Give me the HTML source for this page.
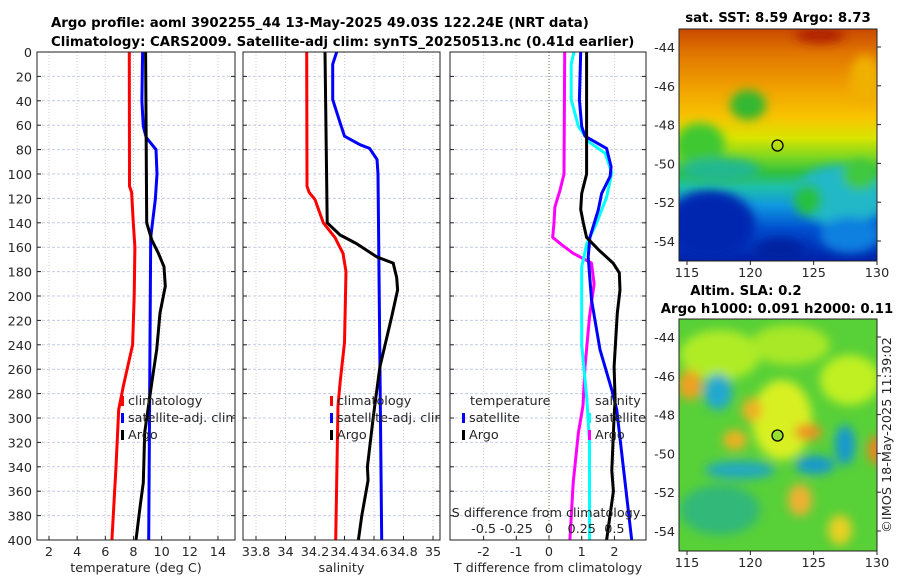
<!DOCTYPE html>
<html><head><meta charset="utf-8">
<style>
body{margin:0;background:#fff;}
svg{display:block;font-family:"DejaVu Sans","Liberation Sans",sans-serif;}
.t{font-size:12.8px;fill:#262626;}
.b{font-size:13.3px;font-weight:bold;fill:#000;}
</style></head>
<body>
<svg id="c" width="900" height="580" viewBox="0 0 900 580">
<defs>
<filter id="bl" x="-50%" y="-50%" width="200%" height="200%"><feGaussianBlur stdDeviation="5"/></filter>
<linearGradient id="sstg" x1="0" y1="0" x2="0" y2="1">
<stop offset="0" stop-color="#c84a00"/><stop offset="0.1" stop-color="#e07400"/>
<stop offset="0.25" stop-color="#f0a000"/><stop offset="0.38" stop-color="#f8c400"/>
<stop offset="0.47" stop-color="#d8e400"/><stop offset="0.55" stop-color="#80d820"/>
<stop offset="0.62" stop-color="#30c040"/><stop offset="0.68" stop-color="#20c0a8"/>
<stop offset="0.76" stop-color="#1098e0"/><stop offset="0.86" stop-color="#0050d0"/>
<stop offset="1" stop-color="#0020a8"/>
</linearGradient>
<clipPath id="m1"><rect x="679" y="29" width="198" height="232"/></clipPath>
<clipPath id="m2"><rect x="679" y="319" width="198" height="232"/></clipPath>
<clipPath id="p1"><rect x="37" y="52" width="198" height="488"/></clipPath>
<clipPath id="p2"><rect x="243" y="52" width="197" height="488"/></clipPath>
<clipPath id="p3"><rect x="450" y="52" width="196" height="488"/></clipPath>
</defs>
<text class="b" x="51" y="27">Argo profile: aoml 3902255_44 13-May-2025 49.03S 122.24E (NRT data)</text>
<text class="b" x="51" y="46">Climatology: CARS2009. Satellite-adj clim: synTS_20250513.nc (0.41d earlier)</text>

<g clip-path="url(#m1)">
<rect x="679" y="29" width="198" height="232" fill="url(#sstg)"/>
<g filter="url(#bl)">
<ellipse cx="700" cy="145" rx="25" ry="22" fill="#40c830"/>
<ellipse cx="748" cy="105" rx="18" ry="15" fill="#30b830"/>
<ellipse cx="720" cy="170" rx="40" ry="12" fill="#20b890"/>
<ellipse cx="710" cy="225" rx="45" ry="35" fill="#0028b0"/>
<ellipse cx="840" cy="195" rx="45" ry="30" fill="#20b8c8"/>
<ellipse cx="808" cy="200" rx="14" ry="16" fill="#28c040"/>
<ellipse cx="850" cy="235" rx="30" ry="18" fill="#1080e0"/>
<ellipse cx="780" cy="250" rx="25" ry="12" fill="#0020a0"/>
<ellipse cx="820" cy="35" rx="25" ry="8" fill="#b02000"/>
<ellipse cx="865" cy="80" rx="15" ry="25" fill="#f0b000"/>
<ellipse cx="860" cy="175" rx="18" ry="15" fill="#40c840"/>
</g>
<circle cx="777.5" cy="145.5" r="5.5" fill="none" stroke="#000" stroke-width="1.3"/>
</g>
<rect x="679" y="29" width="198" height="232" fill="none" stroke="#222"/>
<text class="b" x="778" y="22" text-anchor="middle">sat. SST: 8.59 Argo: 8.73</text>

<g clip-path="url(#m2)">
<rect x="679" y="319" width="198" height="232" fill="#58d038"/>
<g filter="url(#bl)">
<ellipse cx="720" cy="355" rx="40" ry="25" fill="#b0ec28"/>
<ellipse cx="790" cy="345" rx="40" ry="20" fill="#a8e828"/>
<ellipse cx="850" cy="380" rx="30" ry="25" fill="#c0f020"/>
<ellipse cx="690" cy="385" rx="12" ry="15" fill="#f0a020"/>
<ellipse cx="718" cy="392" rx="14" ry="18" fill="#20a8d0"/>
<ellipse cx="782" cy="420" rx="30" ry="40" fill="#d8f020"/>
<ellipse cx="752" cy="410" rx="10" ry="12" fill="#f0b020"/>
<ellipse cx="735" cy="440" rx="12" ry="10" fill="#f0b020"/>
<ellipse cx="808" cy="432" rx="14" ry="8" fill="#f09020"/>
<ellipse cx="740" cy="470" rx="35" ry="9" fill="#20a8c0"/>
<ellipse cx="815" cy="465" rx="20" ry="9" fill="#1898d0"/>
<ellipse cx="845" cy="445" rx="10" ry="20" fill="#1898d0"/>
<ellipse cx="876" cy="450" rx="8" ry="14" fill="#f08020"/>
<ellipse cx="720" cy="510" rx="40" ry="25" fill="#30b878"/>
<ellipse cx="800" cy="500" rx="12" ry="16" fill="#f0b030"/>
<ellipse cx="840" cy="530" rx="12" ry="15" fill="#e8d020"/>
</g>
<circle cx="777.5" cy="435.5" r="5.5" fill="#98e030" stroke="#000" stroke-width="1.3"/>
</g>
<rect x="679" y="319" width="198" height="232" fill="none" stroke="#222"/>
<text class="b" x="746" y="295" text-anchor="middle">Altim. SLA: 0.2</text>
<text class="b" x="777" y="313" text-anchor="middle">Argo h1000: 0.091 h2000: 0.11</text>
<text class="t" transform="translate(891,435) rotate(-90)" text-anchor="middle">©IMOS 18-May-2025 11:39:02</text>

<g id="plots"></g>
</svg>
<script>
const depthTicks=[0,20,40,60,80,100,120,140,160,180,200,220,240,260,280,300,320,340,360,380,400];
const tempTicks=[2,4,6,8,10,12,14];
const salTicks=[33.8,34,34.2,34.4,34.6,34.8,35];
const tdiffTicks=[-2,-1,0,1,2];
const sdiffTicks=[-0.5,-0.25,0,0.25,0.5];
const sdiffTickLabels=["-0.5","-0.25","0","0.25","0.5"];
const lonTicks=[115,120,125,130];
const latTicks=[-44,-46,-48,-50,-52,-54];

const tempClimDepth=[0,110,115,140,160,200,240,274,293,340,400];
const tempClim=[7.70,7.72,7.87,7.99,8.10,8.05,7.94,7.28,6.95,6.76,6.47];
const tempSatDepth=[0,40,61,70,80,100,121,152,400];
const tempSat=[8.65,8.60,8.70,8.90,9.60,9.67,9.55,9.22,9.08];
const tempArgoDepth=[0,140,154,165,176,192,214,244,271,312,353,370,400];
const tempArgo=[8.86,8.94,9.30,9.77,10.17,10.26,9.88,9.65,9.30,8.80,8.70,8.50,8.18];

const salClimDepth=[0,110,115,121,140,152,165,180,238,271,290,400];
const salClim=[34.144,34.146,34.16,34.20,34.256,34.335,34.39,34.41,34.40,34.37,34.356,34.34];
const salSatDepth=[0,10,39,58,69,76,79,88,100,400];
const salSat=[34.347,34.32,34.32,34.37,34.40,34.505,34.57,34.62,34.627,34.652];
const salArgoDepth=[0,140,150,157,168,173,185,195,217,258,299,340,351,380,400];
const salArgo=[34.268,34.283,34.37,34.48,34.62,34.73,34.754,34.76,34.72,34.64,34.595,34.555,34.56,34.517,34.494];

const tdSatDepth=[0,39,61,69,79,94,102,116,129,152,168,203,244,277,293,400];
const tdSat=[0.97,0.93,1.0,1.1,1.76,1.9,1.87,1.61,1.51,1.25,1.2,1.3,1.56,1.92,2.07,2.53];
const tdArgoDepth=[0,100,116,129,140,152,162,173,181,195,214,258,285,299,343,360,400];
const tdArgo=[1.15,1.15,1.0,0.97,1.05,1.15,1.51,1.96,2.15,2.17,2.09,1.99,2.02,1.99,1.92,1.97,1.76];
const sdSatDepth=[0,10,39,61,74,83,99,119,140,157,176,240,285,320,400];
const sdSat=[0.19,0.17,0.17,0.225,0.31,0.43,0.48,0.44,0.365,0.29,0.25,0.25,0.29,0.31,0.31];
const sdArgoDepth=[0,100,113,127,140,152,158,165,173,190,217,258,290,312,353,400];
const sdArgo=[0.12,0.115,0.085,0.045,0.038,0.028,0.098,0.185,0.325,0.345,0.31,0.275,0.26,0.225,0.185,0.16];

const Y0=52, YK=1.22;
const yD=d=>Y0+d*YK;
const xT=v=>49+(v-2)*14.08;
const xS=v=>256+(v-33.8)*147.5;
const xTD=v=>549+v*32.7;
const xSD=v=>549+v*130.8;
const xLon=v=>687+(v-115)*(190/15);
const yLat1=v=>47+(-44-v)*19.4;
const yLat2=v=>337+(-44-v)*19.4;

const NS="http://www.w3.org/2000/svg";
const root=document.getElementById('plots');
function mk(tag,attrs,parent){const e=document.createElementNS(NS,tag);for(const k in attrs)e.setAttribute(k,attrs[k]);(parent||root).appendChild(e);return e;}

const panels=[
 {name:'temperature-panel',x0:37,x1:235,ticks:tempTicks,fx:xT,labels:tempTicks.map(String),title:'temperature (deg C)'},
 {name:'salinity-panel',x0:243,x1:440,ticks:salTicks,fx:xS,labels:salTicks.map(String),title:'salinity'},
 {name:'difference-panel',x0:450,x1:646,ticks:tdiffTicks,fx:xTD,labels:tdiffTicks.map(String),title:'T difference from climatology'}
];
const Ybot=yD(400);
panels.forEach((p,pi)=>{
 const g=mk('g',{});
 
 
 depthTicks.forEach(d=>{
  const l=mk('line',{x1:p.x0,x2:p.x1,y1:yD(d),y2:yD(d),stroke:'#c4cbe6','stroke-width':1,'stroke-dasharray':'3,2'},g);
  
  
  const tk=mk('line',{x1:p.x0,x2:p.x0+4,y1:yD(d),y2:yD(d),stroke:'#222'},g);
  
  
  const tk2=mk('line',{x1:p.x1-4,x2:p.x1,y1:yD(d),y2:yD(d),stroke:'#222'},g);
  
  
 });
 p.ticks.forEach((v,i)=>{
  const x=p.fx(v);
  const l=mk('line',{x1:x,x2:x,y1:Y0,y2:Ybot,stroke:'#dcc8c8','stroke-width':1,'stroke-dasharray':'1,2'},g);
  
  
  const tk=mk('line',{x1:x,x2:x,y1:Ybot-4,y2:Ybot,stroke:'#222'},g);
  
  
  const t=mk('text',{x:x,y:Ybot+16,'text-anchor':'middle',class:'t'},g);
  t.textContent=p.labels[i];
  
  
 });
 const tt=mk('text',{x:(p.x0+p.x1)/2,y:572,'text-anchor':'middle',class:'t'},g);
 tt.textContent=p.title;
 
 
});
const zl=mk('line',{x1:xTD(0),x2:xTD(0),y1:Y0,y2:Ybot,stroke:'#5a6a3a','stroke-width':1,'stroke-dasharray':'1,2'});


depthTicks.forEach(d=>{
 const t=mk('text',{x:32,y:yD(d)+5,'text-anchor':'end',class:'t'});
 t.textContent=String(d);
 
 
});

function line(xs,ds,fx,color,name){
 const pts=xs.map((v,i)=>fx(v).toFixed(1)+','+yD(ds[i]).toFixed(1)).join(' ');
 const pl=mk('polyline',{points:pts,fill:'none',stroke:color,'stroke-width':3,'stroke-linejoin':'round'});
 
 
}
line(tempClim,tempClimDepth,xT,'#ff0000','temp-climatology-line');
line(tempSat,tempSatDepth,xT,'#0000ff','temp-satellite-line');
line(tempArgo,tempArgoDepth,xT,'#000000','temp-argo-line');
line(salClim,salClimDepth,xS,'#ff0000','sal-climatology-line');
line(salSat,salSatDepth,xS,'#0000ff','sal-satellite-line');
line(salArgo,salArgoDepth,xS,'#000000','sal-argo-line');
line(sdArgo,sdArgoDepth,xSD,'#ff00ff','sdiff-argo-line');
line(sdSat,sdSatDepth,xSD,'#00ffff','sdiff-satellite-line');
line(tdSat,tdSatDepth,xTD,'#0000ff','tdiff-satellite-line');
line(tdArgo,tdArgoDepth,xTD,'#000000','tdiff-argo-line');

sdiffTicks.forEach((v,i)=>{
 const t=mk('text',{x:xSD(v),y:533,'text-anchor':'middle',class:'t'});
 t.textContent=sdiffTickLabels[i];
 
 
});
const st=mk('text',{x:546,y:517,'text-anchor':'middle',class:'t'});
st.textContent='S difference from climatology';



panels.forEach(p=>{
 const r=mk('rect',{x:p.x0,y:Y0,width:p.x1-p.x0,height:Ybot-Y0,fill:'none',stroke:'#222','stroke-width':1});
 
 
});

const lg1=mk('g',{'clip-path':'url(#p1)'});


const lg2=mk('g',{'clip-path':'url(#p2)'});


const lg3=mk('g',{'clip-path':'url(#p3)'});


function legItem(parent,x,y,color,label){
 const g=mk('g',{},parent);
 
 
 mk('rect',{x:x,y:y-9,width:3,height:10,fill:color},g);
 const t=mk('text',{x:x+7,y:y,class:'t'},g);
 t.textContent=label;
}
legItem(lg1,121,405,'#ff0000','climatology');
legItem(lg1,121,422,'#0000ff','satellite-adj. clim');
legItem(lg1,121,439,'#000000','Argo');
legItem(lg2,330,405,'#ff0000','climatology');
legItem(lg2,330,422,'#0000ff','satellite-adj. clim');
legItem(lg2,330,439,'#000000','Argo');
const lh1=mk('text',{x:470,y:405,class:'t'},lg3);lh1.textContent='temperature';


legItem(lg3,462,422,'#0000ff','satellite');
legItem(lg3,462,439,'#000000','Argo');
const lh2=mk('text',{x:595,y:405,class:'t'},lg3);lh2.textContent='salinity';


legItem(lg3,588,422,'#00ffff','satellite');
legItem(lg3,588,439,'#ff00ff','Argo');

function mapAxes(yLat,yb){
 latTicks.forEach(v=>{
  const t=mk('text',{x:675,y:yLat(v)+5,'text-anchor':'end',class:'t'});
  t.textContent=String(v);
  
  
  const tk=mk('line',{x1:877,x2:881,y1:yLat(v),y2:yLat(v),stroke:'#222'});
  
  
 });
 lonTicks.forEach(v=>{
  const t=mk('text',{x:xLon(v),y:yb+16,'text-anchor':'middle',class:'t'});
  t.textContent=String(v);
  
  
  const tk=mk('line',{x1:xLon(v),x2:xLon(v),y1:yb,y2:yb+4,stroke:'#222'});
  
  
 });
}
mapAxes(yLat1,261);
mapAxes(yLat2,551);
</script>
</body></html>
